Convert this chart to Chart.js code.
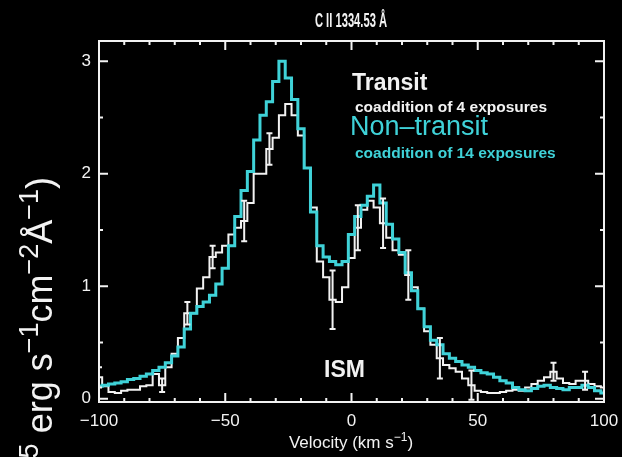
<!DOCTYPE html>
<html>
<head>
<meta charset="utf-8">
<title>C II 1334.53</title>
<script src="https://cdn.jsdelivr.net/npm/chart.js@4.4.1/dist/chart.umd.min.js"></script>
<style>
  html, body { margin: 0; padding: 0; background: #000; }
  #wrap { width: 622px; height: 457px; }
</style>
</head>
<body>
<div id="wrap"><canvas id="cii"></canvas></div>
<script>
// velocity grid (km/s)
const velocity = [
  -100, -97.5, -95, -92.5, -90, -87.5, -85, -82.5, -80, -77.5,
  -75, -72.5, -70, -67.5, -65, -62.5, -60, -57.5, -55, -52.5,
  -50, -47.5, -45, -42.5, -40, -37.5, -35, -32.5, -30, -27.5,
  -25, -22.5, -20, -17.5, -15, -12.5, -10, -7.5, -5, -2.5,
  0, 2.5, 5, 7.5, 10, 12.5, 15, 17.5, 20, 22.5,
  25, 27.5, 30, 32.5, 35, 37.5, 40, 42.5, 45, 47.5,
  50, 52.5, 55, 57.5, 60, 62.5, 65, 67.5, 70, 72.5,
  75, 77.5, 80, 82.5, 85, 87.5, 90, 92.5, 95, 97.5,
  100
];

// flux, 1e-15 erg/s/cm2/A
const transit = [
  0.19, 0.11, 0.06, 0.05, 0.07, 0.08, 0.08, 0.11, 0.12, 0.22,
  0.12, 0.28, 0.40, 0.54, 0.76, 0.76, 0.98, 1.08, 1.26, 1.30,
  1.36, 1.46, 1.52, 1.58, 1.74, 2.00, 2.00, 2.22, 2.32, 2.52,
  2.62, 2.52, 2.34, 2.05, 1.70, 1.22, 1.08, 0.88, 0.86, 0.99,
  1.25, 1.52, 1.68, 1.76, 1.70, 1.56, 1.43, 1.32, 1.28, 1.10,
  0.99, 0.80, 0.60, 0.48, 0.36, 0.30, 0.27, 0.24, 0.18, 0.12,
  0.07, 0.06, 0.05, 0.05, 0.06, 0.07, 0.08, 0.07, 0.10, 0.13,
  0.16, 0.19, 0.24, 0.18, 0.14, 0.13, 0.16, 0.16, 0.13, 0.11,
  0.10
];

const nonTransit = [
  0.11, 0.12, 0.13, 0.14, 0.15, 0.17, 0.18, 0.20, 0.22, 0.25,
  0.28, 0.32, 0.38, 0.46, 0.62, 0.76, 0.82, 0.86, 0.92, 1.02,
  1.16, 1.36, 1.62, 1.85, 2.02, 2.30, 2.52, 2.64, 2.82, 3.00,
  2.85, 2.66, 2.40, 2.05, 1.66, 1.36, 1.26, 1.22, 1.19, 1.22,
  1.46, 1.62, 1.72, 1.80, 1.90, 1.74, 1.55, 1.42, 1.30, 1.12,
  0.96, 0.80, 0.64, 0.52, 0.48, 0.40, 0.36, 0.33, 0.30, 0.28,
  0.25, 0.23, 0.22, 0.19, 0.16, 0.14, 0.10, 0.08, 0.07, 0.09,
  0.11, 0.12, 0.10, 0.09, 0.08, 0.10, 0.10, 0.12, 0.10, 0.07,
  0.05
];

// 1-sigma bars on the transit spectrum
const errVelocity = [-100, -75, -65, -55, -42.5, -32.5, -7.5, 2.5, 12.5, 22.5, 35, 47.5, 80, 92.5];
const errHalf     = [0.09, 0.06, 0.10, 0.10, 0.18, 0.14, 0.26, 0.20, 0.22, 0.22, 0.18, 0.13, 0.08, 0.08];

const xTicks = [-100, -50, 0, 50, 100];
const yTicks = [0, 1, 2, 3];
const xMinor = 10;
const yMinor = 0.5;

const WHITE = '#f2f2f2';
const CYAN = '#3fd2d8';
const FONT = '"Liberation Sans", Arial, Helvetica, sans-serif';

// draw a run of text pieces, superscripts flagged with true
function drawParts(ctx, parts, x, y, size, supSize, rise, measureOnly, weight) {
  let cx = x;
  const w8 = weight ? weight + ' ' : '';
  parts.forEach(function (p) {
    ctx.font = w8 + (p[1] ? supSize : size) + 'px ' + FONT;
    const w = ctx.measureText(p[0]).width;
    if (!measureOnly) ctx.fillText(p[0], cx, p[1] ? y - rise : y);
    cx += w;
  });
  return cx - x;
}

const framePlugin = {
  id: 'idlFrame',
  afterDatasetsDraw: function (chart) {
    const ctx = chart.ctx;
    const xs = chart.scales.x, ys = chart.scales.y;
    const a = chart.chartArea;

    // error bars
    ctx.save();
    ctx.beginPath();
    ctx.rect(a.left, a.top, a.right - a.left, a.bottom - a.top);
    ctx.clip();
    ctx.strokeStyle = WHITE;
    ctx.lineWidth = 2;
    errVelocity.forEach(function (v, i) {
      const f = transit[velocity.indexOf(v)];
      const px = xs.getPixelForValue(v);
      const y1 = ys.getPixelForValue(f - errHalf[i]);
      const y2 = ys.getPixelForValue(f + errHalf[i]);
      ctx.beginPath();
      ctx.moveTo(px, y1); ctx.lineTo(px, y2);
      ctx.moveTo(px - 3, y1); ctx.lineTo(px + 3, y1);
      ctx.moveTo(px - 3, y2); ctx.lineTo(px + 3, y2);
      ctx.stroke();
    });
    ctx.restore();

    // box and inward ticks on all four sides
    ctx.save();
    ctx.strokeStyle = WHITE;
    ctx.lineWidth = 2;
    ctx.strokeRect(a.left, a.top, a.right - a.left, a.bottom - a.top);
    ctx.beginPath();
    for (let v = xs.min; v <= xs.max + 1e-6; v += xMinor) {
      const px = xs.getPixelForValue(v);
      const len = xTicks.indexOf(Math.round(v)) >= 0 ? 9 : 4;
      ctx.moveTo(px, a.bottom); ctx.lineTo(px, a.bottom - len);
      ctx.moveTo(px, a.top); ctx.lineTo(px, a.top + len);
    }
    for (let v = 0; v <= ys.max + 1e-6; v += yMinor) {
      const py = ys.getPixelForValue(v);
      const len = (Math.abs(v - Math.round(v)) < 1e-6) ? 9 : 4;
      ctx.moveTo(a.left, py); ctx.lineTo(a.left + len, py);
      ctx.moveTo(a.right, py); ctx.lineTo(a.right - len, py);
    }
    ctx.stroke();
    ctx.restore();
  },
  afterDraw: function (chart) {
    const ctx = chart.ctx;
    ctx.save();
    ctx.textBaseline = 'alphabetic';

    // title, set narrow
    ctx.fillStyle = WHITE;
    ctx.textAlign = 'center';
    ctx.font = 'bold 20px ' + FONT;
    ctx.save();
    ctx.translate(351, 27);
    ctx.scale(0.56, 1);
    ctx.fillText('C II 1334.53 \u00c5', 0, 0);
    ctx.restore();

    // x axis title
    ctx.textAlign = 'left';
    const xt = [['Velocity (km s', false], ['\u22121', true], [')', false]];
    const xw = drawParts(ctx, xt, 0, 0, 17, 12, 7, true);
    drawParts(ctx, xt, 351 - xw / 2, 448, 17, 12, 7, false);

    // y axis title, rotated, running off the bottom edge
    const yt = [['Flux (10', false], ['\u221215', true], [' erg s', false], ['\u22121', true],
                ['cm', false], ['\u22122', true], ['\u00c5', false], ['\u22121', true], [')', false]];
    ctx.save();
    ctx.translate(52, 177);
    ctx.rotate(-Math.PI / 2);
    const yw = drawParts(ctx, yt, 0, 0, 36, 27, 14, true);
    drawParts(ctx, yt, -yw, 0, 36, 27, 14, false);
    ctx.restore();

    // legend text
    ctx.fillStyle = WHITE;
    ctx.font = 'bold 23px ' + FONT;
    ctx.fillText('Transit', 352, 90);
    ctx.font = 'bold 15.5px ' + FONT;
    ctx.fillText('coaddition of 4 exposures', 355, 112);
    ctx.fillStyle = CYAN;
    ctx.font = '27px ' + FONT;
    ctx.fillText('Non\u2013transit', 350, 135);
    ctx.font = 'bold 15.5px ' + FONT;
    ctx.fillText('coaddition of 14 exposures', 355, 158);

    ctx.fillStyle = WHITE;
    ctx.font = 'bold 23px ' + FONT;
    ctx.fillText('ISM', 324, 377);
    ctx.restore();
  }
};

Chart.defaults.font.family = FONT;
Chart.defaults.color = WHITE;

new Chart(document.getElementById('cii'), {
  type: 'line',
  data: {
    datasets: [
      {
        label: 'Non-transit',
        data: velocity.map(function (v, i) { return { x: v, y: nonTransit[i] }; }),
        borderColor: CYAN,
        borderWidth: 3,
        stepped: 'middle',
        pointRadius: 0,
        fill: false,
        order: 0
      },
      {
        label: 'Transit',
        data: velocity.map(function (v, i) { return { x: v, y: transit[i] }; }),
        borderColor: WHITE,
        borderWidth: 2,
        stepped: 'middle',
        pointRadius: 0,
        fill: false,
        order: 1
      }
    ]
  },
  options: {
    responsive: true,
    maintainAspectRatio: false,
    animation: false,
    layout: { padding: { top: 41, right: 18, left: 0, bottom: 0 } },
    plugins: {
      legend: { display: false },
      tooltip: { enabled: false },
      title: { display: false }
    },
    scales: {
      x: {
        type: 'linear',
        min: -100,
        max: 100,
        grid: { display: false, drawTicks: false },
        border: { display: false },
        afterBuildTicks: function (s) { s.ticks = xTicks.map(function (v) { return { value: v }; }); },
        afterFit: function (s) { s.height = 55; s.paddingLeft = 0; s.paddingRight = 0; },
        ticks: {
          color: WHITE,
          padding: 9,
          maxRotation: 0,
          font: { size: 17 },
          callback: function (v) { return String(v).replace('-', '\u2212'); }
        }
      },
      y: {
        type: 'linear',
        min: -0.03,
        max: 3.18,
        grid: { display: false, drawTicks: false },
        border: { display: false },
        afterBuildTicks: function (s) { s.ticks = yTicks.map(function (v) { return { value: v }; }); },
        afterFit: function (s) { s.width = 99; s.paddingTop = 0; s.paddingBottom = 0; },
        ticks: {
          color: WHITE,
          padding: 8,
          font: { size: 17 }
        }
      }
    }
  },
  plugins: [framePlugin]
});
</script>
</body>
</html>
